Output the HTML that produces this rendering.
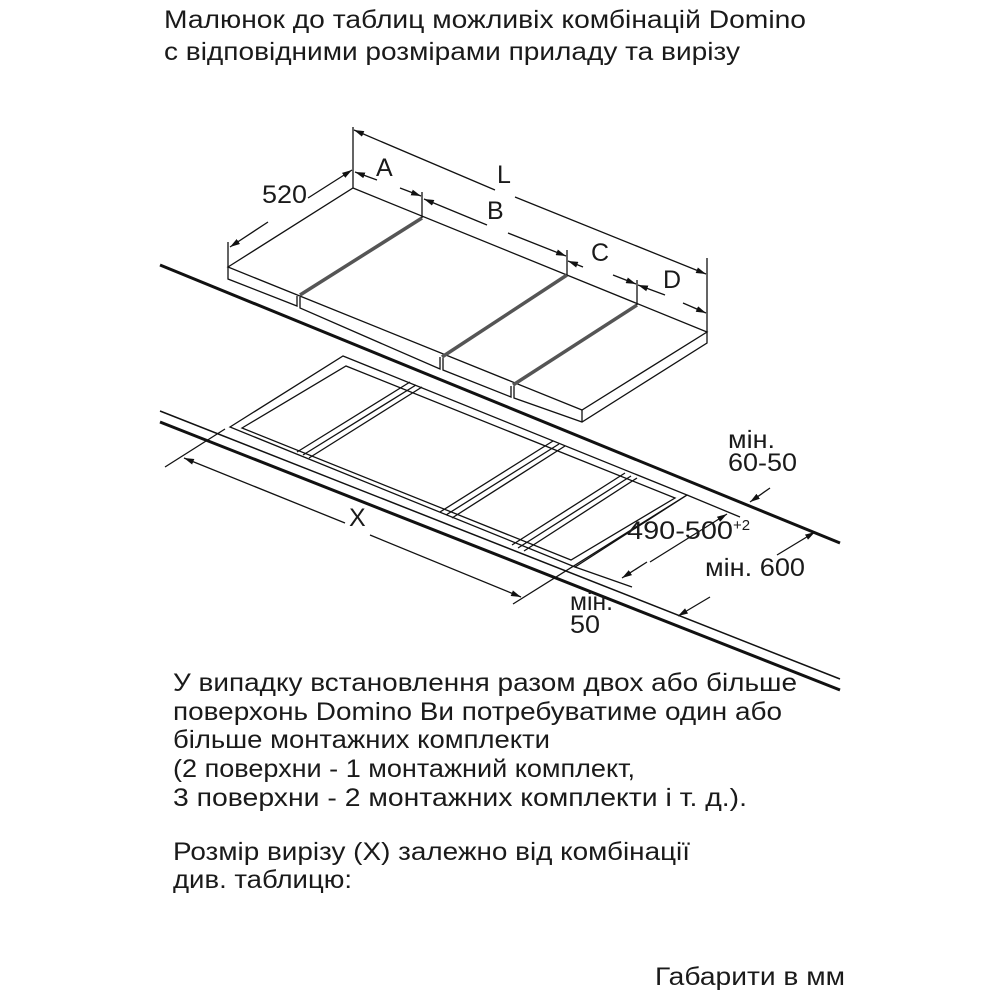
<!DOCTYPE html>
<html><head><meta charset="utf-8"><style>
html,body{margin:0;padding:0;background:#fff;width:1000px;height:1000px;overflow:hidden}
svg{display:block}
text{font-family:"Liberation Sans",sans-serif;fill:#1a1a1a}
</style></head><body>
<svg width="1000" height="1000" viewBox="0 0 1000 1000" xmlns="http://www.w3.org/2000/svg">
<defs>
<marker id="ar" markerWidth="10" markerHeight="6" refX="10" refY="3" orient="auto" markerUnits="userSpaceOnUse">
<path d="M0,0 L10,3 L0,6 z" fill="#111"/></marker>
</defs>
<g font-size="25">
<text x="164" y="28" textLength="642" lengthAdjust="spacingAndGlyphs">Малюнок до таблиц можливіх комбінацій Domino</text>
<text x="164" y="60" textLength="576" lengthAdjust="spacingAndGlyphs">с відповідними розмірами приладу та вирізу</text>
<text x="173" y="691" textLength="624" lengthAdjust="spacingAndGlyphs">У випадку встановлення разом двох або більше</text>
<text x="173" y="720" textLength="609" lengthAdjust="spacingAndGlyphs">поверхонь Domino Ви потребуватиме один або</text>
<text x="173" y="748" textLength="377" lengthAdjust="spacingAndGlyphs">більше монтажних комплекти</text>
<text x="173" y="777" textLength="462" lengthAdjust="spacingAndGlyphs">(2 поверхни - 1 монтажний комплект,</text>
<text x="173" y="806" textLength="574" lengthAdjust="spacingAndGlyphs">3 поверхни - 2 монтажних комплекти і т. д.).</text>
<text x="173" y="860" textLength="517" lengthAdjust="spacingAndGlyphs">Розмір вирізу (X) залежно від комбінації</text>
<text x="173" y="888" textLength="179" lengthAdjust="spacingAndGlyphs">див. таблицю:</text>
<text x="655" y="985" textLength="190" lengthAdjust="spacingAndGlyphs">Габарити в мм</text>
</g>
<g stroke="#111" fill="none" stroke-width="1.3">
<line x1="160" y1="265" x2="840" y2="543" stroke-width="3"/>
<line x1="160" y1="411" x2="840" y2="679" stroke-width="1.5"/>
<line x1="160" y1="422" x2="840" y2="690" stroke-width="3"/>

<polygon points="228,267 353,188 707,332 582,410" fill="#fff"/>
<polyline points="228,267 228,279 297,306 297,296"/>
<polyline points="300,297 300,308 440,369 440,357"/>
<polyline points="443,358 443,370 511,397 511,386"/>
<polyline points="514,386 514,398 582,422 707,343 707,332"/>
<line x1="582" y1="410" x2="582" y2="422"/>
<line x1="300" y1="295" x2="422" y2="218" stroke="#555" stroke-width="3.5"/>
<line x1="442" y1="357" x2="567" y2="275" stroke="#555" stroke-width="3.5"/>
<line x1="513" y1="385" x2="637" y2="305" stroke="#555" stroke-width="3.5"/>

<line x1="353" y1="127" x2="353" y2="188"/>
<line x1="707" y1="258" x2="707" y2="332"/>
<line x1="228" y1="242" x2="228" y2="267"/>
<line x1="422" y1="192" x2="422" y2="218"/>
<line x1="567" y1="250" x2="567" y2="275"/>
<line x1="637" y1="280" x2="637" y2="305"/>
<line x1="268" y1="222" x2="230" y2="247" marker-end="url(#ar)"/>
<line x1="308" y1="198" x2="352" y2="170" marker-end="url(#ar)"/>
<line x1="377" y1="180" x2="355" y2="172" marker-end="url(#ar)"/>
<line x1="400" y1="188" x2="421" y2="196" marker-end="url(#ar)"/>
<line x1="487" y1="225" x2="424" y2="199" marker-end="url(#ar)"/>
<line x1="508" y1="233" x2="566" y2="256" marker-end="url(#ar)"/>
<line x1="583" y1="267" x2="568" y2="261" marker-end="url(#ar)"/>
<line x1="613" y1="275" x2="636" y2="284" marker-end="url(#ar)"/>
<line x1="665" y1="295" x2="638" y2="285" marker-end="url(#ar)"/>
<line x1="683" y1="303" x2="706" y2="313" marker-end="url(#ar)"/>
<line x1="495" y1="190" x2="354" y2="130" marker-end="url(#ar)"/>
<line x1="515" y1="197" x2="706" y2="274" marker-end="url(#ar)"/>

<polygon points="230,427 343,356 687,495 575,567" fill="#fff"/>
<polygon points="242,428 346,366 675,498 571,560"/>
<polyline points="297,452 410,382"/><polyline points="303,455 416,385"/><polyline points="309,458 422,387"/>
<polyline points="440,512 553,441"/><polyline points="446,515 559,444"/><polyline points="452,518 565,446"/>
<polyline points="512,545 625,473"/><polyline points="518,548 631,476"/><polyline points="524,551 637,478"/>
<line x1="687" y1="495" x2="513" y2="604"/>
<line x1="687" y1="495" x2="740" y2="517"/>
<line x1="575" y1="567" x2="632" y2="587"/>
<line x1="165" y1="467" x2="225" y2="429"/>
<line x1="345" y1="523" x2="184" y2="458" marker-end="url(#ar)"/>
<line x1="370" y1="535" x2="521" y2="597" marker-end="url(#ar)"/>
<line x1="650" y1="562" x2="727" y2="514" marker-end="url(#ar)"/>
<line x1="647" y1="562" x2="622" y2="578" marker-end="url(#ar)"/>
<line x1="770" y1="488" x2="750" y2="502" marker-end="url(#ar)"/>
<line x1="777" y1="555" x2="815" y2="532" marker-end="url(#ar)"/>
<line x1="710" y1="597" x2="678" y2="616" marker-end="url(#ar)"/>
</g>
<g font-size="25">
<text x="262" y="203" textLength="45" lengthAdjust="spacingAndGlyphs">520</text>
<text x="376" y="176">A</text>
<text x="487" y="219">B</text>
<text x="497" y="183">L</text>
<text x="591" y="261">C</text>
<text x="663" y="288">D</text>
<text x="349" y="526">X</text>
<text x="728" y="448" textLength="47" lengthAdjust="spacingAndGlyphs">мін.</text>
<text x="728" y="471" textLength="69" lengthAdjust="spacingAndGlyphs">60-50</text>
<text x="627" y="539" textLength="106" lengthAdjust="spacingAndGlyphs">490-500</text>
<text x="733" y="530" font-size="15">+2</text>
<text x="705" y="576" textLength="100" lengthAdjust="spacingAndGlyphs">мін. 600</text>
<text x="570" y="610" textLength="43" lengthAdjust="spacingAndGlyphs">мін.</text>
<text x="570" y="633" textLength="30" lengthAdjust="spacingAndGlyphs">50</text>
</g>
</svg>
</body></html>
